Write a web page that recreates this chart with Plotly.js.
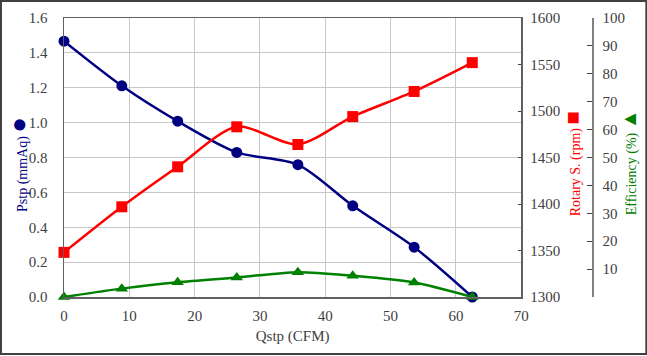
<!DOCTYPE html>
<html>
<head>
<meta charset="utf-8">
<script src="https://cdn.plot.ly/plotly-3.0.1.min.js"></script>
<style>html,body{margin:0;padding:0;background:#fff}#chart{width:647px;height:356px}</style>
</head>
<body>
<div id="chart"></div>
<script>
const qstp = [0, 8.85, 17.4, 26.45, 35.8, 44.2, 53.6, 62.5];
const pstp = [1.467, 1.211, 1.008, 0.829, 0.759, 0.523, 0.286, 0.0];
const rotary = [1348, 1397, 1440, 1483, 1464, 1494, 1521, 1552];
const efficiency = [0, 3.0, 5.3, 7.0, 8.9, 7.6, 5.2, 0];
const xTicks = [0, 10, 20, 30, 40, 50, 60, 70];
const effTicks = [0, 10, 20, 30, 40, 50, 60, 70, 80, 90, 100];
const effTickText = ['', '10', '20', '30', '40', '50', '60', '70', '80', '90', '100'];

const FONT = 'Liberation Serif';
const TXT = '#404040';
const GRID = '#c8c8c8';

// plot area geometry (px)
const L = 64, R = 521, T = 18, B = 297, EFF = 591.7, W = 647, H = 356;
const paperW = EFF - L, paperH = B - T;
const px = v => (v - L) / paperW;
const py = v => (B - v) / paperH;

const traces = [
  {x: qstp, y: pstp, type: 'scatter', mode: 'lines+markers', yaxis: 'y', cliponaxis: false,
   line: {color: '#000080', width: 2.5, shape: 'spline', smoothing: 0.8},
   marker: {symbol: 'circle', size: 11, color: '#000080'}},
  {x: qstp, y: rotary, type: 'scatter', mode: 'lines+markers', yaxis: 'y2', cliponaxis: false,
   line: {color: '#ff0000', width: 2.5, shape: 'spline', smoothing: 0.8},
   marker: {symbol: 'square', size: 11, color: '#ff0000'}},
  {x: qstp, y: efficiency, type: 'scatter', mode: 'lines+markers', yaxis: 'y3', cliponaxis: false,
   line: {color: '#008000', width: 2.5, shape: 'spline', smoothing: 0.8},
   marker: {symbol: 'triangle-up', size: 11, color: '#008000'}}
];

const tf = {family: FONT, size: 15, color: TXT};

const layout = {
  width: W, height: H,
  margin: {l: L, r: W - EFF, t: T, b: H - B},
  paper_bgcolor: '#fff', plot_bgcolor: '#fff',
  showlegend: false,
  font: {family: FONT, size: 15, color: TXT},
  xaxis: {
    domain: [0, (R - L) / paperW], range: [0, 70], tickvals: xTicks,
    showgrid: true, gridcolor: GRID, gridwidth: 1, zeroline: false,
    showline: true, linecolor: '#606060', linewidth: 1.5, mirror: true,
    ticks: '', ticklabelstandoff: 4, tickfont: tf,
    title: {text: 'Qstp (CFM)', font: {family: FONT, size: 15, color: TXT}, standoff: 8}
  },
  yaxis: {
    range: [0, 1.6], dtick: 0.2, tickformat: '.1f',
    showgrid: true, gridcolor: GRID, gridwidth: 1, zeroline: false,
    showline: true, linecolor: '#606060', linewidth: 1.5, mirror: true,
    ticks: '', ticklabelstandoff: 12, tickfont: tf
  },
  yaxis2: {
    overlaying: 'y', side: 'right', anchor: 'x', range: [1300, 1600], dtick: 50,
    showgrid: false, zeroline: false, showline: false,
    ticks: 'inside', ticklen: 3, tickcolor: '#404040', ticklabelstandoff: 8,
    tickfont: tf
  },
  yaxis3: {
    overlaying: 'y', side: 'right', anchor: 'free', position: 1, range: [0, 100],
    tickvals: effTicks, ticktext: effTickText,
    showgrid: false, zeroline: false,
    showline: true, linecolor: '#808080', linewidth: 1.5,
    ticks: 'inside', ticklen: 5, tickcolor: '#404040', ticklabelstandoff: 6,
    tickfont: tf
  },
  annotations: [
    {xref: 'paper', yref: 'paper', x: px(18), y: py(164), textangle: -90, showarrow: false,
     xanchor: 'center', yanchor: 'middle',
     text: 'Pstp (mmAq) <span style="font-size:26px">●</span>',
     font: {family: FONT, size: 14, color: '#000080'}},
    {xref: 'paper', yref: 'paper', x: px(572), y: py(164), textangle: -90, showarrow: false,
     xanchor: 'center', yanchor: 'middle',
     text: 'Rotary S. (rpm) <span style="font-size:22px">■</span>',
     font: {family: FONT, size: 14, color: '#ff0000'}},
    {xref: 'paper', yref: 'paper', x: px(629), y: py(162), textangle: -90, showarrow: false,
     xanchor: 'center', yanchor: 'middle',
     text: 'Efficiency (%) <span style="font-size:20px">▲</span>',
     font: {family: FONT, size: 14, color: '#008000'}}
  ],
  shapes: [
    {type: 'rect', xref: 'paper', yref: 'paper', layer: 'above',
     x0: px(1), x1: px(646), y0: py(354), y1: py(1),
     line: {color: '#404040', width: 2}}
  ]
};

Plotly.newPlot('chart', traces, layout, {staticPlot: true, displayModeBar: false});
</script>
</body>
</html>
